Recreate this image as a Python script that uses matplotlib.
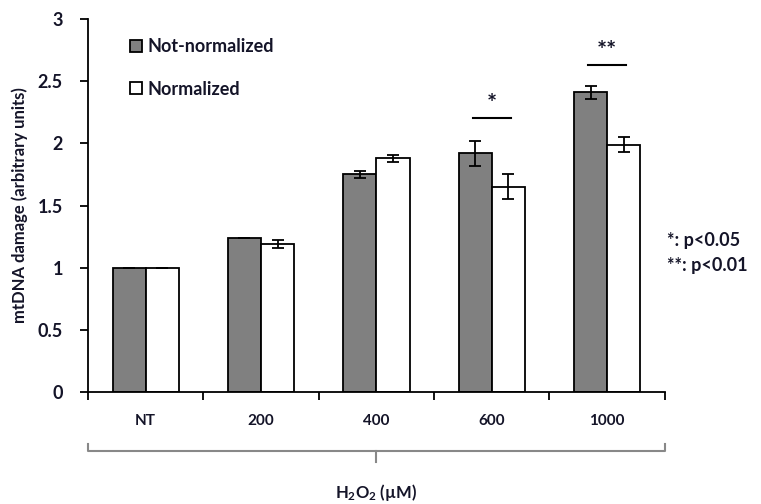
import matplotlib
matplotlib.use("Agg")
import matplotlib.pyplot as plt
import numpy as np

plt.rcParams['font.family'] = ['Lato', 'DejaVu Sans']
plt.rcParams['font.weight'] = 'bold'
plt.rcParams['mathtext.default'] = 'regular'

categories = ['NT', '200', '400', '600', '1000']
not_norm = [1.0, 1.24, 1.75, 1.92, 2.41]
not_norm_err = [0.0, 0.0, 0.03, 0.10, 0.05]
norm = [1.0, 1.19, 1.88, 1.65, 1.99]
norm_err = [0.0, 0.03, 0.03, 0.10, 0.06]
sig_idx = [3, 4]
sig_marks = ['*', '**']
sig_line_y = [2.20, 2.63]

txt = '#141428'

fig = plt.figure(figsize=(7.61, 5.04), dpi=100)
ax = fig.add_axes([0.1156, 0.2222, 0.758, 0.7401])

x = np.arange(len(categories))
w = 0.287
ax.bar(x - w/2, not_norm, w, color='#808080', edgecolor='black', linewidth=1.3,
       yerr=not_norm_err, error_kw=dict(ecolor='black', elinewidth=1.3, capsize=4, capthick=1.3),
       label='Not-normalized')
ax.bar(x + w/2, norm, w, color='white', edgecolor='black', linewidth=1.3,
       yerr=norm_err, error_kw=dict(ecolor='black', elinewidth=1.3, capsize=4, capthick=1.3),
       label='Normalized')

# significance lines
for i, m, yl in zip(sig_idx, sig_marks, sig_line_y):
    ax.plot([i - w/2 - 0.02, i + w/2 + 0.02], [yl, yl], color='black', lw=1.5)
    ax.text(i, yl + 0.02, m, ha='center', va='bottom', fontsize=17, color=txt)

ax.set_xlim(-0.5, 4.5)
ax.set_ylim(0, 3)
ax.set_yticks([0, 0.5, 1, 1.5, 2, 2.5, 3])
ax.set_yticklabels(['0', '0.5', '1', '1.5', '2', '2.5', '3'], fontsize=13, color=txt)
ax.set_xticks(np.arange(-0.5, 5, 1))
ax.set_xticklabels([])
ax.set_xticks(x, minor=True)
ax.set_xticklabels(categories, minor=True, fontsize=11, color=txt)
ax.tick_params(axis='x', which='minor', length=0, pad=16)
ax.tick_params(axis='x', which='major', length=6, width=1.3, direction='out')
ax.tick_params(axis='y', length=6, width=1.3, direction='out', pad=12)
for s in ['top', 'right']:
    ax.spines[s].set_visible(False)
for s in ['left', 'bottom']:
    ax.spines[s].set_linewidth(1.3)

ax.set_ylabel('mtDNA damage (arbitrary units)', fontsize=12, fontweight='bold',
              color=txt, labelpad=7)

# bracket below x axis
yb = -0.158
ax.plot([0.0, 0.0, 1.0, 1.0], [yb + 0.018, yb, yb, yb + 0.018],
        transform=ax.transAxes, clip_on=False, color='#888888', lw=1.5)
ax.plot([0.5, 0.5], [yb, yb - 0.03], transform=ax.transAxes, clip_on=False,
        color='#888888', lw=1.5)
ax.text(0.5, -0.27, r'H$_2$O$_2$ (µM)', transform=ax.transAxes, ha='center',
        va='center', fontsize=12, color=txt)

leg = ax.legend(loc='upper left', bbox_to_anchor=(0.045, 0.992), frameon=False,
                fontsize=13, handlelength=0.65, handleheight=0.65, handletextpad=0.3,
                labelspacing=1.4, labelcolor=txt)

fig.text(0.877, 0.523, '*: p<0.05', fontsize=13, color=txt, va='center')
fig.text(0.877, 0.474, '**: p<0.01', fontsize=13, color=txt, va='center')

fig.savefig('out.png', dpi=100)
